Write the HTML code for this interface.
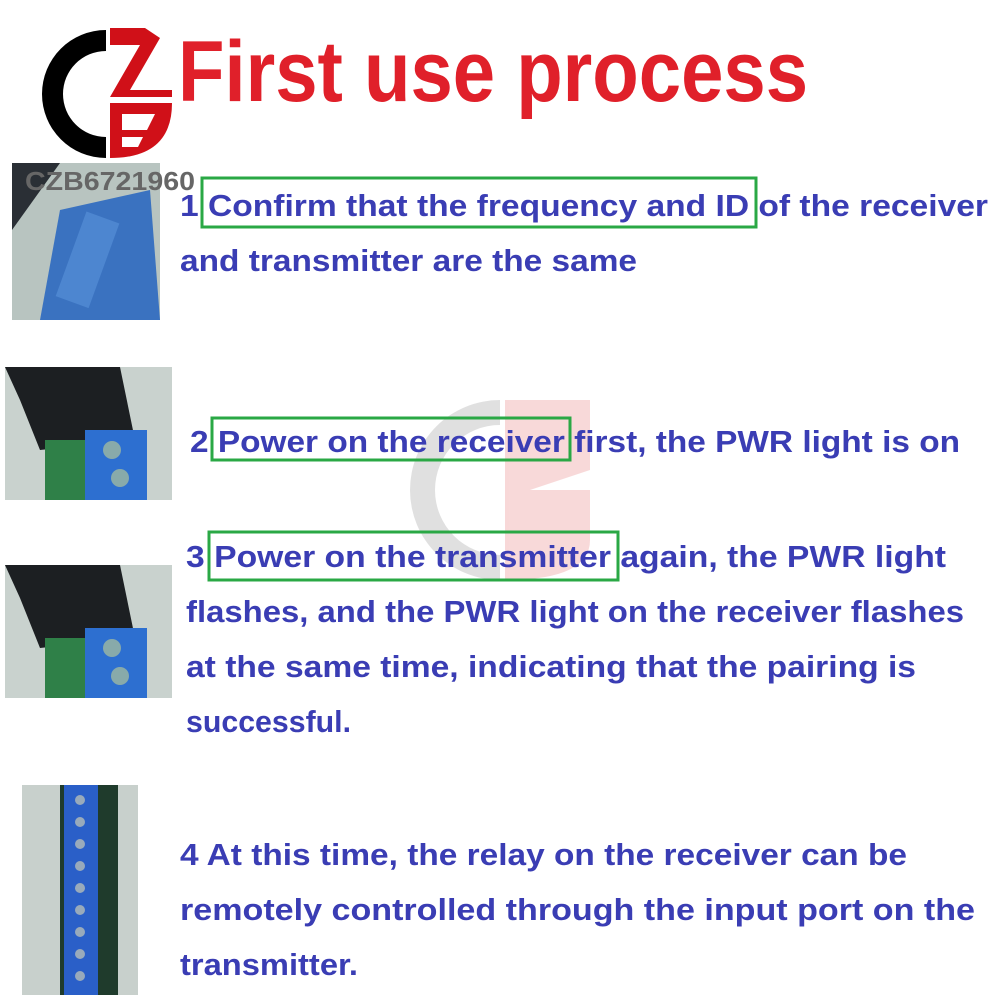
<!DOCTYPE html>
<html><head><meta charset="utf-8"><style>
html,body{margin:0;padding:0;background:#fff;}
svg{display:block;}
.t{font-family:"Liberation Sans",sans-serif;font-weight:bold;font-size:31px;fill:#3a3db4;}
</style></head><body>
<svg width="1000" height="1000" viewBox="0 0 1000 1000" xmlns="http://www.w3.org/2000/svg">
<!-- watermark -->
<g opacity="0.22">
<path d="M500 400 A90 90 0 0 0 500 580 L500 555 A65 65 0 0 1 500 425 Z" fill="#777"/>
<path d="M505 400 L590 400 L590 470 L530 490 L590 490 L590 540 Q590 580 505 580 Z" fill="#e05050"/>
</g>
<!-- logo -->
<path d="M106 30 A64 64 0 0 0 106 158 L106 137 A43 43 0 0 1 106 51 Z" fill="#000"/>
<path d="M110 28 L145 28 L160 38 L130 90 L172 90 L172 97 L110 97 L140 45 L110 45 Z" fill="#d01018"/>
<path d="M110 103 L172 103 Q172 158 110 158 Z" fill="#d01018"/>
<path d="M122 114 L155 114 L147 130 L122 130 Z M122 137 L143 137 L138 147 L122 147 Z" fill="#fff"/>
<text x="178" y="101" font-family="Liberation Sans,sans-serif" font-weight="bold" font-size="86" fill="#e0202a" textLength="630" lengthAdjust="spacingAndGlyphs">First use process</text>
<!-- photos -->
<rect x="12" y="163" width="148" height="157" fill="#b8c4c0"/>
<path d="M12 163 L60 163 L12 230 Z" fill="#2a2f35"/>
<path d="M60 210 L150 190 L160 320 L40 320 Z" fill="#3a72c0"/>
<rect x="70" y="215" width="35" height="90" fill="#4d86d0" transform="rotate(20 88 260)"/>
<text x="25" y="190" font-family="Liberation Sans,sans-serif" font-weight="bold" font-size="26" fill="#666" textLength="170" lengthAdjust="spacingAndGlyphs">CZB6721960</text>
<g>
<rect x="5" y="367" width="167" height="133" fill="#c9d2ce"/>
<path d="M5 367 L120 367 L135 440 L40 450 L20 400 Z" fill="#1c1f22"/>
<rect x="45" y="440" width="60" height="60" fill="#2f8048"/>
<rect x="85" y="430" width="62" height="70" fill="#2d6fd0"/>
<circle cx="112" cy="450" r="9" fill="#8aa"/><circle cx="120" cy="478" r="9" fill="#8aa"/>
</g>
<g>
<rect x="5" y="565" width="167" height="133" fill="#c9d2ce"/>
<path d="M5 565 L120 565 L135 638 L40 648 L20 598 Z" fill="#1c1f22"/>
<rect x="45" y="638" width="60" height="60" fill="#2f8048"/>
<rect x="85" y="628" width="62" height="70" fill="#2d6fd0"/>
<circle cx="112" cy="648" r="9" fill="#8aa"/><circle cx="120" cy="676" r="9" fill="#8aa"/>
</g>
<g>
<rect x="22" y="785" width="116" height="210" fill="#c8d0cc"/>
<rect x="60" y="785" width="58" height="210" fill="#1f3b2c"/>
<rect x="64" y="785" width="34" height="210" fill="#2a5fc8"/>
<g fill="#9ab">
<circle cx="80" cy="800" r="5"/><circle cx="80" cy="822" r="5"/><circle cx="80" cy="844" r="5"/><circle cx="80" cy="866" r="5"/><circle cx="80" cy="888" r="5"/><circle cx="80" cy="910" r="5"/><circle cx="80" cy="932" r="5"/><circle cx="80" cy="954" r="5"/><circle cx="80" cy="976" r="5"/>
</g>
</g>
<!-- green boxes -->
<g fill="none" stroke="#2aa845" stroke-width="3">
<rect x="202" y="178" width="554" height="49"/>
<rect x="212" y="418" width="358" height="42"/>
<rect x="209" y="532" width="409" height="48"/>
</g>
<!-- text -->
<text class="t" x="180" y="216" textLength="808" lengthAdjust="spacingAndGlyphs">1 Confirm that the frequency and ID of the receiver</text>
<text class="t" x="180" y="271" textLength="457" lengthAdjust="spacingAndGlyphs">and transmitter are the same</text>
<text class="t" x="190" y="452" textLength="770" lengthAdjust="spacingAndGlyphs">2 Power on the receiver first, the PWR light is on</text>
<text class="t" x="186" y="567" textLength="760" lengthAdjust="spacingAndGlyphs">3 Power on the transmitter again, the PWR light</text>
<text class="t" x="186" y="622" textLength="778" lengthAdjust="spacingAndGlyphs">flashes, and the PWR light on the receiver flashes</text>
<text class="t" x="186" y="677" textLength="730" lengthAdjust="spacingAndGlyphs">at the same time, indicating that the pairing is</text>
<text class="t" x="186" y="732" textLength="165" lengthAdjust="spacingAndGlyphs">successful.</text>
<text class="t" x="180" y="865" textLength="727" lengthAdjust="spacingAndGlyphs">4 At this time, the relay on the receiver can be</text>
<text class="t" x="180" y="920" textLength="795" lengthAdjust="spacingAndGlyphs">remotely controlled through the input port on the</text>
<text class="t" x="180" y="975" textLength="178" lengthAdjust="spacingAndGlyphs">transmitter.</text>
</svg>
</body></html>
